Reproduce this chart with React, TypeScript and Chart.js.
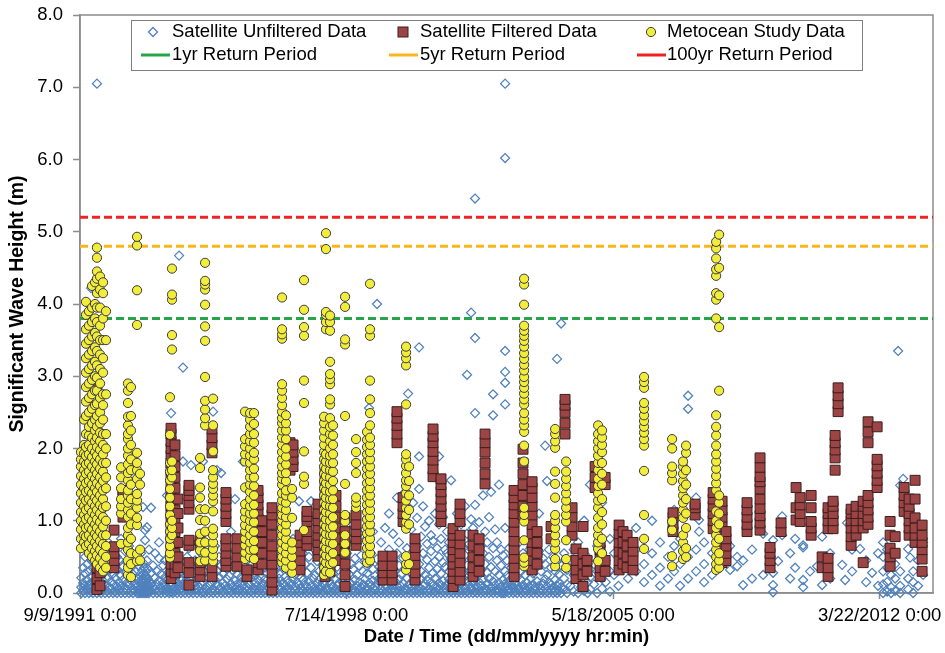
import { useEffect, useRef } from "react";
import { Chart, registerables } from "chart.js";

Chart.register(...registerables);

// x values are days after 9/9/1991 0:00
const EPOCH_UTC = Date.UTC(1991, 8, 9);
const X_TICK_DAYS = [0, 2500, 5000, 7500];
const X_MAX_DAYS = 8000;
const Y_MIN = 0;
const Y_MAX = 8;

const RETURN_1YR = 3.8;
const RETURN_5YR = 4.8;
const RETURN_100YR = 5.2;

const SERIES_LABELS = [
  "Satellite Unfiltered Data",
  "Satellite Filtered Data",
  "Metocean Study Data",
  "1yr Return Period",
  "5yr Return Period",
  "100yr Return Period",
];

type Col = [number, number[]];

const unfilteredCols: Col[] = [
  [12, [0.0, 0.08, 0.21]],
  [30, [0.03, 0.14, 0.35]],
  [47, [0.0, 0.1, 0.27, 0.5]],
  [66, [0.05, 0.18, 0.4]],
  [84, [0.0, 0.12, 0.3, 0.58]],
  [103, [0.02, 0.07, 0.22, 0.45, 4.22]],
  [122, [0.0, 0.16, 0.34, 0.63]],
  [141, [0.04, 0.11, 0.28]],
  [159, [0.0, 0.06, 0.19, 0.41, 2.42, 7.05]],
  [178, [0.02, 0.13, 0.33, 0.55]],
  [197, [0.0, 0.09, 0.25, 0.47]],
  [216, [0.05, 0.17, 0.38, 0.84]],
  [235, [0.0, 0.11, 0.29, 0.6]],
  [253, [0.03, 0.2, 0.43, 0.72]],
  [272, [0.0, 0.08, 0.31]],
  [291, [0.06, 0.16, 0.52]],
  [310, [0.0, 0.12, 0.27, 0.62]],
  [328, [0.02, 0.21, 0.39]],
  [347, [0.0, 0.09, 0.33, 0.5]],
  [366, [0.04, 0.15, 0.46]],
  [385, [0.0, 0.1, 0.24, 0.75]],
  [403, [0.03, 0.18, 0.36]],
  [422, [0.0, 0.07, 0.29, 0.58]],
  [441, [0.05, 0.14, 0.42]],
  [460, [0.0, 0.11, 0.22, 0.65]],
  [478, [0.02, 0.17, 0.35]],
  [497, [0.0, 0.06, 0.26, 0.48]],
  [516, [0.03, 0.13, 0.31]],
  [535, [0.0, 0.09, 0.2, 0.5]],
  [553, [0.0, 0.04, 0.15, 0.37]],
  [572, [0.0, 0.07, 0.12, 0.23, 0.55]],
  [582, [0.02, 0.1, 0.18, 0.31]],
  [591, [0.0, 0.05, 0.14, 0.26, 0.42, 1.19]],
  [601, [0.03, 0.09, 0.2, 0.35]],
  [610, [0.0, 0.06, 0.12, 0.24, 0.73, 0.87]],
  [619, [0.01, 0.08, 0.17, 0.3]],
  [628, [0.0, 0.04, 0.14, 0.22, 0.45, 0.91]],
  [638, [0.02, 0.1, 0.19, 0.33]],
  [647, [0.0, 0.07, 0.16, 0.6]],
  [666, [0.03, 0.13, 0.28, 1.18]],
  [685, [0.0, 0.09, 0.38]],
  [704, [0.05, 0.21, 0.55]],
  [722, [0.0, 0.12, 0.3]],
  [741, [0.02, 0.17, 0.48, 0.7]],
  [760, [0.0, 0.08, 0.26]],
  [779, [0.04, 0.14, 0.38]],
  [797, [0.0, 0.1, 0.22, 0.45]],
  [816, [0.02, 0.07, 0.18, 1.35]],
  [835, [0.0, 0.05, 0.13, 0.29, 0.5]],
  [854, [0.01, 0.09, 0.2, 0.36, 2.49]],
  [872, [0.0, 0.04, 0.12, 0.24, 0.62]],
  [891, [0.02, 0.08, 0.17, 0.4]],
  [910, [0.0, 0.06, 0.15, 0.3, 0.55]],
  [929, [0.03, 0.11, 0.26, 4.67]],
  [947, [0.0, 0.07, 0.19, 0.44]],
  [966, [0.02, 0.13, 0.33, 1.82, 3.12]],
  [985, [0.0, 0.09, 0.24]],
  [1004, [0.04, 0.17, 0.5]],
  [1022, [0.0, 0.11, 0.3, 0.62]],
  [1041, [0.02, 0.06, 0.21, 1.77]],
  [1060, [0.0, 0.14, 0.38]],
  [1079, [0.05, 0.1, 0.27, 0.45]],
  [1097, [0.0, 0.18, 0.7]],
  [1116, [0.03, 0.08, 0.33]],
  [1135, [0.0, 0.12, 0.23, 0.55]],
  [1154, [0.01, 0.16, 0.41, 1.82]],
  [1173, [0.0, 0.07, 0.29]],
  [1191, [0.04, 0.2, 0.6]],
  [1210, [0.0, 0.1, 0.35]],
  [1229, [0.02, 0.15, 0.25, 0.48]],
  [1248, [0.0, 0.06, 0.42, 2.51]],
  [1266, [0.03, 0.18, 0.65]],
  [1285, [0.0, 0.11, 0.3, 1.7]],
  [1304, [0.05, 0.22, 0.5]],
  [1323, [0.0, 0.08, 0.38, 1.66]],
  [1341, [0.02, 0.14, 0.27]],
  [1360, [0.0, 0.1, 0.45, 0.72]],
  [1379, [0.04, 0.19, 0.33]],
  [1398, [0.0, 0.07, 0.24]],
  [1416, [0.02, 0.13, 0.52, 0.85]],
  [1435, [0.0, 0.09, 0.31]],
  [1454, [0.05, 0.17, 0.4, 1.3]],
  [1473, [0.0, 0.12, 0.26]],
  [1491, [0.03, 0.06, 0.45, 0.65]],
  [1510, [0.0, 0.15, 0.22]],
  [1529, [0.02, 0.1, 0.4, 1.82]],
  [1548, [0.0, 0.18, 0.28]],
  [1566, [0.04, 0.08, 0.5]],
  [1585, [0.0, 0.12, 0.33, 0.6]],
  [1604, [0.02, 0.2, 0.38]],
  [1623, [0.0, 0.07, 0.26]],
  [1642, [0.05, 0.14, 0.55]],
  [1660, [0.0, 0.1, 0.3, 0.75]],
  [1679, [0.03, 0.17, 0.42]],
  [1698, [0.0, 0.08, 0.22]],
  [1717, [0.02, 0.13, 0.48]],
  [1735, [0.0, 0.19, 0.35, 0.62]],
  [1754, [0.04, 0.09, 0.28]],
  [1773, [0.0, 0.15, 0.5, 0.85]],
  [1792, [0.02, 0.11, 0.24]],
  [1810, [0.0, 0.06, 0.4]],
  [1829, [0.03, 0.18, 0.31, 0.7]],
  [1848, [0.0, 0.12, 0.45]],
  [1867, [0.05, 0.2, 0.27]],
  [1885, [0.0, 0.08, 0.55, 0.9]],
  [1904, [0.02, 0.14, 0.36]],
  [1923, [0.0, 0.1, 0.22, 0.6]],
  [1942, [0.04, 0.17, 0.42]],
  [1960, [0.0, 0.07, 0.3]],
  [1979, [0.02, 0.13, 0.5]],
  [1998, [0.0, 0.19, 0.38, 0.75]],
  [2017, [0.03, 0.09, 0.25]],
  [2035, [0.0, 0.15, 0.47]],
  [2054, [0.02, 0.11, 0.33, 1.27]],
  [2073, [0.0, 0.06, 0.22]],
  [2092, [0.04, 0.18, 0.55]],
  [2111, [0.0, 0.12, 0.4, 0.72]],
  [2129, [0.02, 0.08, 0.28]],
  [2148, [0.0, 0.16, 0.5]],
  [2167, [0.03, 0.1, 0.35, 1.27]],
  [2186, [0.0, 0.2, 0.62]],
  [2204, [0.02, 0.07, 0.25]],
  [2223, [0.0, 0.13, 0.44]],
  [2242, [0.05, 0.18, 0.3, 0.85]],
  [2261, [0.0, 0.09, 0.52]],
  [2279, [0.02, 0.15, 0.38]],
  [2298, [0.0, 0.11, 0.24, 0.65]],
  [2317, [0.04, 0.06, 0.46]],
  [2336, [0.0, 0.17, 0.33]],
  [2354, [0.02, 0.12, 0.56, 0.7]],
  [2373, [0.0, 0.08, 0.27]],
  [2392, [0.03, 0.19, 0.42]],
  [2411, [0.0, 0.1, 0.36, 0.8]],
  [2429, [0.02, 0.14, 0.5]],
  [2448, [0.0, 0.07, 0.23]],
  [2467, [0.05, 0.16, 0.44, 0.62]],
  [2486, [0.0, 0.11, 0.3]],
  [2504, [0.02, 0.2, 0.55]],
  [2523, [0.0, 0.09, 0.26, 0.75]],
  [2542, [0.03, 0.13, 0.4]],
  [2561, [0.0, 0.06, 0.33, 0.95]],
  [2580, [0.02, 0.18, 0.48]],
  [2598, [0.0, 0.1, 0.25, 0.68]],
  [2617, [0.04, 0.15, 0.38]],
  [2636, [0.0, 0.08, 0.52, 0.8]],
  [2655, [0.02, 0.12, 0.3]],
  [2673, [0.0, 0.19, 0.45]],
  [2692, [0.03, 0.07, 0.27, 0.62]],
  [2711, [0.0, 0.14, 0.4, 2.56]],
  [2730, [0.02, 0.1, 0.55]],
  [2748, [0.0, 0.17, 0.33, 0.85]],
  [2767, [0.05, 0.09, 0.24]],
  [2786, [0.0, 0.13, 0.47, 4.0]],
  [2805, [0.02, 0.2, 0.36]],
  [2823, [0.0, 0.06, 0.28, 0.7]],
  [2842, [0.03, 0.15, 0.5]],
  [2861, [0.0, 0.11, 0.4, 0.9]],
  [2880, [0.02, 0.08, 0.22]],
  [2898, [0.0, 0.18, 0.6, 1.1]],
  [2917, [0.04, 0.12, 0.35]],
  [2936, [0.0, 0.07, 0.45, 0.82]],
  [2955, [0.02, 0.16, 0.3]],
  [2973, [0.0, 0.1, 0.55, 1.32]],
  [2992, [0.03, 0.19, 0.38, 0.7]],
  [3011, [0.0, 0.09, 0.26]],
  [3030, [0.02, 0.14, 0.48, 0.95]],
  [3049, [0.0, 0.06, 0.33, 1.4]],
  [3067, [0.05, 0.2, 0.62]],
  [3077, [2.76]],
  [3086, [0.0, 0.12, 0.42]],
  [3105, [0.02, 0.08, 0.28, 0.88]],
  [3124, [0.0, 0.17, 0.52, 1.25]],
  [3142, [0.03, 0.11, 0.36]],
  [3161, [0.0, 0.15, 0.65, 1.04]],
  [3180, [0.02, 0.07, 0.4, 1.44, 1.89, 3.4]],
  [3199, [0.0, 0.19, 0.3, 0.78]],
  [3217, [0.04, 0.1, 0.55, 1.2]],
  [3236, [0.0, 0.13, 0.25, 0.92]],
  [3255, [0.02, 0.18, 0.46, 0.68]],
  [3274, [0.0, 0.06, 0.35, 1.0]],
  [3292, [0.03, 0.15, 0.58, 0.8]],
  [3311, [0.0, 0.1, 0.28, 0.72]],
  [3330, [0.02, 0.2, 0.44, 1.1]],
  [3349, [0.0, 0.08, 0.33, 0.62]],
  [3367, [0.05, 0.14, 0.5, 0.95, 1.89]],
  [3386, [0.0, 0.11, 0.27, 0.75]],
  [3405, [0.02, 0.17, 0.42, 1.05]],
  [3424, [0.0, 0.07, 0.36, 0.6]],
  [3442, [0.03, 0.12, 0.55, 0.85]],
  [3461, [0.0, 0.19, 0.3, 0.7]],
  [3480, [0.02, 0.09, 0.47, 1.56]],
  [3499, [0.0, 0.15, 0.25, 0.9]],
  [3518, [0.04, 0.1, 0.4, 0.66]],
  [3536, [0.0, 0.18, 0.58, 1.1]],
  [3555, [0.02, 0.06, 0.33, 0.78]],
  [3574, [0.0, 0.13, 0.45, 0.95]],
  [3593, [0.03, 0.2, 0.28, 0.62]],
  [3611, [0.0, 0.08, 0.52, 1.2]],
  [3630, [0.02, 0.16, 0.38, 0.82, 3.02]],
  [3649, [0.0, 0.11, 0.3, 0.68]],
  [3668, [0.05, 0.07, 0.48, 1.02, 3.88]],
  [3686, [0.0, 0.14, 0.35, 0.9]],
  [3705, [0.02, 0.19, 0.6, 1.22, 2.49, 3.53, 5.46]],
  [3724, [0.0, 0.09, 0.26, 0.75]],
  [3743, [0.03, 0.15, 0.44, 0.98]],
  [3761, [0.0, 0.1, 0.32, 0.65]],
  [3780, [0.02, 0.18, 0.55, 1.35]],
  [3799, [0.0, 0.06, 0.4, 0.85]],
  [3818, [0.04, 0.13, 0.28, 0.7]],
  [3836, [0.0, 0.2, 0.5, 1.05]],
  [3855, [0.02, 0.08, 0.36, 1.4]],
  [3874, [0.0, 0.16, 0.62, 2.46, 2.75]],
  [3893, [0.03, 0.11, 0.3, 0.88]],
  [3911, [0.0, 0.05, 0.45, 0.7]],
  [3930, [0.02, 0.14, 0.25, 1.5]],
  [3949, [0.0, 0.09, 0.38, 0.6]],
  [3968, [0.0, 0.03, 0.18, 0.52]],
  [3987, [0.0, 0.07, 0.13, 0.3, 0.9, 2.61, 2.91, 3.06, 3.35, 6.02, 7.05]],
  [4005, [0.02, 0.1, 0.24, 0.45]],
  [4024, [0.0, 0.05, 0.17, 0.62]],
  [4043, [0.03, 0.12, 0.35]],
  [4062, [0.0, 0.08, 0.28, 0.85]],
  [4080, [0.02, 0.15, 0.48]],
  [4099, [0.0, 0.1, 0.22]],
  [4118, [0.04, 0.06, 0.4, 0.7]],
  [4137, [0.0, 0.18, 0.3]],
  [4155, [0.02, 0.11, 0.55]],
  [4174, [0.0, 0.07, 0.25]],
  [4193, [0.03, 0.14, 0.42]],
  [4212, [0.0, 0.09, 0.33, 0.6]],
  [4230, [0.02, 0.2, 0.5]],
  [4249, [0.0, 0.12, 0.27]],
  [4268, [0.05, 0.08, 0.45, 0.7]],
  [4287, [0.0, 0.16, 0.36]],
  [4305, [0.02, 0.1, 0.58, 1.1]],
  [4324, [0.0, 0.06, 0.3]],
  [4343, [0.03, 0.13, 0.48]],
  [4362, [0.0, 0.19, 0.4, 2.04]],
  [4380, [0.02, 0.09, 0.25, 1.55]],
  [4399, [0.0, 0.15, 0.6]],
  [4418, [0.04, 0.11, 0.35]],
  [4437, [0.0, 0.07, 0.5, 0.75]],
  [4456, [0.02, 0.18, 0.3]],
  [4474, [0.0, 0.1, 0.44, 3.24]],
  [4493, [0.03, 0.14, 0.26]],
  [4512, [0.0, 0.08, 0.38, 3.73]],
  [4540, [0.05, 0.2, 0.55]],
  [4568, [0.0, 0.12, 0.32]],
  [4600, [0.1, 0.45]],
  [4630, [0.02, 0.25, 0.6]],
  [4671, [0.0, 0.18, 0.7]],
  [4700, [0.08, 0.35]],
  [4728, [0.03, 0.28, 1.0]],
  [4760, [0.0, 0.15, 0.5]],
  [4784, [0.05, 0.22, 1.5]],
  [4820, [0.12, 0.4]],
  [4850, [0.0, 0.3, 0.65]],
  [4896, [0.06, 0.2, 1.25]],
  [4930, [0.15, 0.45]],
  [4970, [0.02, 0.3, 0.75]],
  [5009, [0.25, 0.55]],
  [5050, [0.1, 0.35, 0.8]],
  [5140, [0.2, 0.45]],
  [5215, [0.3, 0.6, 0.9]],
  [5290, [0.15, 0.4]],
  [5365, [0.25, 0.55, 1.0]],
  [5440, [0.1, 0.35, 0.7]],
  [5515, [0.2, 0.5]],
  [5572, [0.3, 0.65, 1.15]],
  [5628, [0.1, 0.4, 0.75]],
  [5703, [0.2, 0.5, 2.55, 2.73]],
  [5778, [0.3, 0.6, 1.32]],
  [5806, [0.85, 1.01]],
  [5853, [0.15, 0.4, 0.7]],
  [5928, [0.25, 0.55]],
  [6003, [0.35, 0.8]],
  [6097, [0.32, 0.65]],
  [6163, [0.37, 0.5]],
  [6219, [0.11, 0.45]],
  [6303, [0.2, 0.6]],
  [6407, [0.25, 0.82]],
  [6500, [0.01, 0.11, 0.28, 0.73]],
  [6547, [0.44]],
  [6585, [0.8, 1.06]],
  [6660, [0.2, 0.55]],
  [6707, [0.35, 0.75]],
  [6782, [0.08, 0.18, 0.63, 0.66]],
  [6847, [0.3]],
  [6913, [0.37]],
  [6960, [0.11, 0.78]],
  [7035, [0.2, 0.55]],
  [7148, [0.39]],
  [7176, [0.18]],
  [7194, [0.97]],
  [7241, [0.3, 0.6]],
  [7316, [0.61]],
  [7373, [0.15, 0.45]],
  [7429, [0.28]],
  [7485, [0.1, 0.55]],
  [7532, [0.0, 0.12, 0.3, 0.5, 0.7]],
  [7570, [0.02, 0.15, 0.35, 0.6]],
  [7607, [0.0, 0.08, 0.25, 0.45, 0.8]],
  [7645, [0.03, 0.2, 0.4]],
  [7673, [3.35]],
  [7692, [0.0, 0.1, 0.3, 1.49]],
  [7720, [1.58]],
  [7767, [0.05, 0.2, 0.61]],
  [7785, [0.49]],
  [7814, [0.0, 0.15, 0.3]],
  [7860, [0.1, 0.45]],
  [7907, [0.25, 0.7]],
];

const filteredCols: Col[] = [
  [159, [0.05, 0.2, 0.35, 0.55, 0.7, 0.9, 1.1, 1.3, 1.6, 1.9, 2.2, 2.5, 2.85]],
  [188, [0.1, 0.28, 0.45, 0.65, 0.85, 1.05, 1.25, 1.5, 1.75, 1.95]],
  [319, [0.35, 0.45, 0.55, 0.64, 0.87]],
  [403, [1.05, 1.15, 1.25, 1.35, 1.42]],
  [854, [0.2, 0.3, 0.4, 0.5, 0.6, 0.7, 0.8, 0.9, 1.0, 1.1, 1.2, 1.3, 1.4, 1.5, 1.6, 1.7, 1.8, 1.9, 2.0, 2.1, 2.2, 2.28]],
  [891, [0.28, 0.4, 0.55, 0.7, 0.85, 1.0, 1.15, 1.3, 1.45, 1.6, 1.75, 1.9, 2.05]],
  [919, [0.35, 0.5, 0.7, 0.9, 1.1, 1.3]],
  [1022, [0.11, 0.28, 0.42, 0.66, 0.73, 1.16, 1.25, 1.35, 1.42, 1.49]],
  [1126, [0.23, 0.32, 0.42, 0.66, 0.73]],
  [1238, [0.23, 0.35, 1.94, 2.05, 2.15, 2.27]],
  [1369, [0.37, 0.45, 0.55, 0.65, 0.75, 0.99, 1.1, 1.2, 1.3, 1.39]],
  [1473, [0.37, 0.5, 0.62, 0.75]],
  [1566, [0.23, 0.32]],
  [1670, [0.32, 0.42, 0.52, 0.62, 0.72, 0.82, 0.92, 1.02, 1.12, 1.22, 1.32, 1.42]],
  [1707, [0.4, 0.55, 0.7, 0.85, 1.0]],
  [1801, [0.04, 0.15, 0.28, 0.4, 0.52, 0.65, 0.8, 0.95, 1.08, 1.18]],
  [1970, [1.7, 1.8, 1.9, 2.0, 2.08]],
  [1998, [1.75, 1.85, 1.95, 2.05]],
  [2064, [0.32, 0.45, 0.58, 0.7, 0.8]],
  [2129, [0.66, 0.75, 0.85, 0.99, 1.06, 1.13]],
  [2232, [0.51, 0.6, 0.7, 0.8, 0.9, 1.0, 1.1, 1.23]],
  [2298, [0.23, 0.35, 0.48, 0.6, 0.72, 0.85, 0.98, 1.1, 1.22, 1.35, 1.48, 1.6, 1.7]],
  [2345, [0.3, 0.45, 0.6, 0.75, 0.9, 1.05, 1.2, 1.35, 1.5]],
  [2401, [0.45, 0.6, 0.75, 0.9, 1.05, 1.2, 1.35]],
  [2486, [0.09, 0.25, 0.4, 0.55, 0.7, 0.85, 1.04]],
  [2589, [0.66, 0.75, 0.85, 0.95, 1.08]],
  [2842, [0.18, 0.28, 0.38, 0.51]],
  [2927, [0.18, 0.28, 0.38, 0.51]],
  [2973, [2.08, 2.2, 2.32, 2.42, 2.51]],
  [3030, [0.99, 1.1, 1.2, 1.32]],
  [3142, [0.18, 0.28, 0.4, 0.52, 0.63, 0.75]],
  [3311, [1.61, 1.72, 1.84, 1.96, 2.08, 2.17, 2.27]],
  [3386, [0.99, 1.1, 1.2, 1.3, 1.4, 1.5, 1.58]],
  [3499, [0.09, 0.2, 0.3, 0.4, 0.5, 0.6, 0.7, 0.8, 0.89]],
  [3564, [0.18, 0.3, 0.42, 0.55, 0.68, 0.8, 0.99, 1.1, 1.23]],
  [3686, [0.23, 0.35, 0.5, 0.65, 0.8]],
  [3743, [0.3, 0.45, 0.6, 0.75]],
  [3799, [1.51, 1.65, 1.8, 1.95, 2.08, 2.2]],
  [4071, [0.23, 0.35, 0.48, 0.6, 0.72, 0.85, 0.98, 1.1, 1.22, 1.32, 1.42]],
  [4155, [1.08, 1.2, 1.35, 1.5, 1.65, 1.8, 1.99]],
  [4240, [0.32, 0.45, 0.58, 0.7, 0.82, 0.95, 1.08, 1.2, 1.32, 1.45, 1.54]],
  [4287, [0.4, 0.55, 0.7, 0.85]],
  [4418, [0.75, 0.92]],
  [4549, [2.2, 2.35, 2.5, 2.6, 2.68]],
  [4615, [0.8, 0.92, 1.05, 1.18]],
  [4652, [0.2, 0.32, 0.45, 0.61]],
  [4718, [0.09, 0.25, 0.4, 0.55, 0.92]],
  [4756, [0.3, 0.45]],
  [4831, [1.46, 1.6, 1.75]],
  [4878, [0.23, 0.35, 0.5, 0.6, 0.7]],
  [4925, [0.3, 0.45, 1.5, 1.6]],
  [5056, [0.32, 0.45, 0.58, 0.7, 0.82, 0.94]],
  [5093, [0.4, 0.55, 0.7, 0.85]],
  [5131, [0.35, 0.5, 0.65, 0.8]],
  [5187, [0.32, 0.45, 0.58, 0.7]],
  [5562, [0.85, 0.95, 1.05, 1.11]],
  [5769, [1.08, 1.18, 1.23]],
  [5938, [0.89, 1.0, 1.1, 1.2, 1.3, 1.39]],
  [6022, [0.42, 0.55, 0.68, 0.8, 0.92, 1.05, 1.15, 1.27]],
  [6059, [0.45, 0.55, 0.65, 0.75, 0.85]],
  [6256, [0.85, 0.95, 1.05, 1.15, 1.25]],
  [6378, [0.87, 0.97, 1.07, 1.17, 1.3, 1.44, 1.54, 1.61, 1.74, 1.87]],
  [6472, [0.35, 0.45, 0.55, 0.63]],
  [6575, [0.85, 0.97]],
  [6716, [1.01, 1.18, 1.46]],
  [6754, [0.99, 1.1, 1.22, 1.32]],
  [6857, [0.8, 0.9, 0.99, 1.18, 1.35]],
  [6960, [0.35, 0.5]],
  [7016, [0.23, 0.35, 0.48, 0.89, 1.0, 1.1, 1.18]],
  [7063, [0.89, 1.0, 1.1, 1.2, 1.27]],
  [7082, [1.7, 1.87, 1.98, 2.08, 2.18]],
  [7110, [2.51, 2.62, 2.73, 2.84]],
  [7232, [0.66, 0.78, 0.9, 1.0, 1.1, 1.16]],
  [7279, [0.8, 0.9, 1.0, 1.1, 1.2]],
  [7345, [0.42, 0.9, 1.0, 1.1, 1.2, 1.27]],
  [7391, [0.95, 1.05, 1.15, 1.25, 1.35, 2.08, 2.23, 2.37]],
  [7476, [1.46, 1.56, 1.66, 1.76, 1.85, 2.3]],
  [7598, [0.37, 0.5, 0.62, 0.8, 0.99]],
  [7645, [0.55, 0.78]],
  [7729, [1.13, 1.25, 1.35, 1.46]],
  [7776, [0.8, 0.9, 1.0, 1.1, 1.2, 1.3]],
  [7832, [0.7, 0.8, 0.9, 1.04, 1.3, 1.56]],
  [7898, [0.3, 0.47, 0.6, 0.7, 0.8, 0.94]],
];

const metoceanCols: Col[] = [
  [9, [0.62, 0.75, 0.88, 1.0, 1.12, 1.25, 1.38, 1.5, 1.62, 1.75, 1.85, 1.95]],
  [38, [0.7, 0.8, 0.95, 1.08, 1.2, 1.32, 1.45, 1.58, 1.7, 1.82, 1.93, 2.05, 2.4]],
  [56, [0.65, 0.78, 0.9, 1.02, 1.15, 1.28, 1.4, 1.52, 1.65, 1.78, 1.9, 2.02, 2.2, 2.45, 2.65, 2.85, 3.05, 3.25, 3.45, 3.65, 3.85, 4.03]],
  [84, [0.55, 0.68, 0.8, 0.92, 1.05, 1.18, 1.3, 1.42, 1.55, 1.68, 1.8, 1.92, 2.05, 2.18, 2.3, 2.5, 2.7, 2.9, 3.1, 3.3, 3.5, 3.7, 3.9]],
  [113, [0.5, 0.62, 0.75, 0.88, 1.0, 1.12, 1.25, 1.38, 1.5, 1.62, 1.75, 1.88, 2.0, 2.15, 2.35, 2.55, 2.75, 2.95, 3.15, 3.35, 3.55, 3.75, 3.95, 4.25]],
  [141, [0.45, 0.58, 0.7, 0.82, 0.95, 1.08, 1.2, 1.32, 1.45, 1.58, 1.7, 1.82, 1.95, 2.1, 2.25, 2.4, 2.6, 2.8, 3.0, 3.2, 3.4, 3.6, 3.8, 4.0, 4.3]],
  [159, [0.4, 0.52, 0.65, 0.78, 0.9, 1.02, 1.15, 1.28, 1.4, 1.52, 1.65, 1.78, 1.9, 2.02, 2.15, 2.3, 2.45, 2.62, 2.8, 2.98, 3.15, 3.35, 3.55, 3.75, 3.95, 4.15, 4.35, 4.45, 4.64, 4.78]],
  [188, [0.35, 0.48, 0.6, 0.72, 0.85, 0.98, 1.1, 1.22, 1.35, 1.48, 1.6, 1.72, 1.85, 1.98, 2.1, 2.22, 2.35, 2.5, 2.7, 2.9, 3.1, 3.3, 3.5, 3.7, 3.95, 4.2, 4.38]],
  [216, [0.3, 0.42, 0.55, 0.68, 0.8, 0.92, 1.05, 1.18, 1.3, 1.42, 1.55, 1.68, 1.8, 1.92, 2.05, 2.2, 2.4, 2.6, 2.75, 3.05, 3.25, 3.5, 3.8, 4.15, 4.3]],
  [244, [0.35, 0.5, 0.65, 0.8, 1.0, 1.2, 1.45, 1.6, 1.8, 2.0, 2.2, 2.75, 3.5, 3.9]],
  [385, [0.68, 1.1, 1.2, 1.3, 1.45, 1.6, 1.74]],
  [450, [0.25, 0.35, 0.45, 0.6, 0.7, 0.8, 0.9, 1.05, 1.15, 1.25, 1.35, 1.42, 1.56, 1.66, 1.78, 1.9, 2.0, 2.13, 2.2, 2.32, 2.44, 2.63, 2.8, 2.9]],
  [478, [0.22, 0.4, 0.55, 0.75, 0.95, 1.1, 1.3, 1.5, 1.7, 1.85, 2.05, 2.25, 2.45, 2.85]],
  [535, [0.44, 0.54, 0.94, 1.04, 1.18, 1.28, 1.37, 1.58, 1.7, 1.8, 1.94, 3.71, 4.19, 4.81, 4.93]],
  [563, [0.45, 0.6, 1.5, 1.65]],
  [844, [0.49, 0.55, 0.65, 0.75, 0.85, 0.95, 1.08, 1.2, 1.32, 1.44, 1.56, 1.68, 1.8, 2.19, 2.71]],
  [863, [0.8, 0.9, 1.0, 1.6, 1.7, 1.82, 3.37, 3.57, 4.06, 4.13, 4.49]],
  [1126, [0.44, 0.59, 0.7, 0.82, 1.01, 1.16, 1.32, 1.46, 1.73, 1.87]],
  [1173, [0.45, 0.56, 0.7, 0.85, 1.0, 1.16, 2.32, 2.42, 2.54, 2.66, 2.99, 3.49, 3.69, 3.99, 4.2, 4.27, 4.32, 4.57]],
  [1248, [0.44, 0.52, 0.61, 0.7, 0.8, 0.89, 1.13, 1.27, 1.35, 1.44, 1.51, 1.6, 1.7, 1.96, 2.32, 2.69]],
  [1548, [0.47, 0.56, 0.66, 0.75, 0.85, 0.94, 1.04, 1.13, 1.23, 1.46, 1.82, 1.92, 2.03, 2.13, 2.51]],
  [1595, [0.5, 0.6, 0.7, 0.8, 0.9, 1.0, 1.1, 1.2, 1.3, 1.4, 1.5, 1.6, 1.7, 1.8, 1.9, 2.0, 2.1, 2.2, 2.3, 2.4, 2.49]],
  [1632, [0.47, 0.6, 0.72, 0.85, 0.98, 1.1, 1.22, 1.35, 1.48, 1.6, 1.72, 1.85, 1.94, 2.08, 2.2, 2.34, 2.49]],
  [1895, [0.42, 0.5, 0.6, 0.7, 0.8, 0.9, 1.0, 1.08, 1.18, 1.28, 1.38, 1.5, 1.58, 1.66, 1.75, 1.85, 1.95, 2.05, 2.15, 2.25, 2.35, 2.42, 2.51, 2.6, 2.7, 2.8, 2.89, 3.52, 3.58, 3.65, 4.09]],
  [1932, [0.35, 0.45, 0.55, 0.65, 0.75, 0.85, 0.95, 1.05, 1.15, 1.25, 1.35, 1.42, 1.55, 1.66, 1.78, 1.89, 2.0, 2.13, 2.25, 2.35, 2.46]],
  [1989, [0.28, 0.38, 0.5, 0.6, 0.7, 1.04, 1.32, 1.44]],
  [2101, [0.87, 1.51, 1.61, 1.96, 2.63, 2.94, 3.56, 3.68, 3.92, 4.33]],
  [2289, [0.25, 0.35, 0.45, 0.55, 0.65, 0.75, 0.85, 0.95, 1.05, 1.15, 1.25, 1.35, 1.45, 1.55, 1.65, 1.75, 1.85, 1.95, 2.05, 2.15, 2.25, 2.35, 2.44]],
  [2307, [0.3, 0.42, 0.52, 0.62, 0.72, 0.82, 0.92, 1.02, 1.12, 1.22, 1.32, 1.42, 1.52, 1.62, 1.72, 1.82, 1.92, 3.65, 3.75, 3.85, 3.89, 4.76, 4.98]],
  [2345, [0.28, 0.4, 0.5, 0.6, 0.7, 0.8, 0.9, 1.0, 1.1, 1.2, 1.3, 1.4, 1.5, 1.6, 1.7, 1.8, 1.9, 2.0, 2.1, 2.2, 2.3, 2.42, 2.61, 2.68, 2.89, 2.96, 3.03, 3.2, 3.63, 3.75, 3.84]],
  [2373, [0.42, 0.55, 0.68, 0.8, 0.92, 1.05, 1.18, 1.3, 1.42, 1.55, 1.68, 1.8, 1.92, 2.05, 2.18, 2.32]],
  [2486, [0.56, 0.68, 0.8, 0.99, 1.08, 1.51, 2.45, 3.44, 3.51, 3.96, 4.1]],
  [2589, [1.18, 1.25, 1.32, 1.66, 1.8, 1.95, 2.13]],
  [2692, [0.42, 0.52, 0.62, 0.72, 0.82, 0.92, 1.02, 1.12, 1.22, 1.32, 1.42, 1.52, 1.62, 1.72, 1.82, 1.92, 2.02, 2.12, 2.23]],
  [2720, [0.45, 0.55, 0.65, 0.75, 0.85, 0.95, 1.05, 1.15, 1.25, 1.35, 1.45, 1.55, 1.65, 1.75, 1.85, 1.95, 2.05, 2.15, 2.32, 2.49, 2.68, 2.94, 3.56, 3.65, 4.28]],
  [3058, [0.32, 0.4, 0.51, 0.89, 0.98, 1.08, 1.18, 1.28, 1.38, 1.48, 1.56, 1.66, 1.76, 1.85, 1.92, 2.61, 3.15, 3.25, 3.33, 3.41]],
  [3086, [0.4, 0.95, 1.15, 1.35, 1.55, 1.75]],
  [4165, [0.37, 0.42, 0.49, 0.73, 0.99, 1.08, 1.18, 1.82, 2.04, 2.23, 2.32, 2.4, 2.49, 2.61, 2.68, 2.76, 2.84, 2.92, 2.99, 3.08, 3.16, 3.24, 3.32, 3.41, 3.49, 3.56, 3.63, 3.7, 3.99, 4.27, 4.35]],
  [4456, [0.37, 0.47, 0.61, 0.7, 0.8, 0.9, 1.0, 1.08, 1.32, 1.51, 1.68, 2.01, 2.1, 2.2, 2.27]],
  [4559, [0.35, 0.47, 0.73, 0.99, 1.08, 1.18, 1.28, 1.38, 1.48, 1.58, 1.68, 1.82]],
  [4859, [0.44, 0.61, 0.7, 0.8, 0.9, 1.04, 1.18, 1.28, 1.38, 1.48, 1.58, 1.7, 1.8, 1.9, 2.0, 2.1, 2.2, 2.32]],
  [4896, [0.55, 0.75, 0.95, 1.12, 1.3, 1.5, 1.65, 1.8, 1.95, 2.05, 2.15, 2.25]],
  [5290, [0.61, 0.75, 1.08, 1.69, 2.04, 2.13, 2.22, 2.3, 2.38, 2.46, 2.55, 2.63, 2.84, 2.92, 2.99]],
  [5553, [0.37, 0.51, 0.87, 0.99, 1.56, 1.66, 1.75, 2.0, 2.13]],
  [5656, [0.47, 0.58, 0.7, 0.8, 1.04, 1.15, 1.25, 1.35, 1.45, 1.55, 1.65, 1.75, 1.82]],
  [5684, [0.5, 0.62, 0.9, 1.1, 1.3, 1.5, 1.7, 1.94, 2.04]],
  [5966, [0.32, 0.4, 0.5, 0.6, 0.7, 0.8, 0.9, 1.0, 1.13, 1.42, 1.52, 1.62, 1.72, 1.82, 1.92, 2.04, 2.18, 2.3, 2.46, 3.8, 4.06, 4.15, 4.39, 4.48, 4.63, 4.77, 4.86]],
  [5994, [0.35, 0.45, 0.55, 0.75, 0.95, 1.1, 1.25, 1.35, 2.8, 3.68, 4.12, 4.5, 4.96]],
];

const FONT = "'Liberation Sans', Arial, sans-serif";
const COLORS = {
  unfiltered: "#4F81BD",
  filteredFill: "#9D4444",
  filteredBorder: "#3A1E1E",
  metoceanFill: "#F2EC3A",
  metoceanBorder: "#3C3C3C",
  r1: "#26A649",
  r5: "#FBB61E",
  r100: "#EE2224",
  axis: "#8C8C8C",
};

function toPoints(cols: Col[]) {
  return cols.flatMap(([d, ys]) => ys.map((y) => ({ x: d, y })));
}

function fmtDate(days: number) {
  const dt = new Date(EPOCH_UTC + days * 86400000);
  return `${dt.getUTCMonth() + 1}/${dt.getUTCDate()}/${dt.getUTCFullYear()} 0:00`;
}

function hLine(v: number) {
  return [
    { x: 0, y: v },
    { x: X_MAX_DAYS, y: v },
  ];
}

const framePlugin = {
  id: "frame",
  beforeDatasetsDraw(chart: any) {
    const { ctx, chartArea } = chart;
    ctx.save();
    ctx.strokeStyle = COLORS.axis;
    ctx.lineWidth = 1.5;
    ctx.strokeRect(chartArea.left, chartArea.top, chartArea.right - chartArea.left, chartArea.bottom - chartArea.top);
    ctx.restore();
  },
};

const legendPlugin = {
  id: "boxLegend",
  afterDraw(chart: any) {
    const ctx = chart.ctx as CanvasRenderingContext2D;
    ctx.save();
    const bx = 131, by = 20, bw = 731, bh = 50;
    ctx.fillStyle = "#ffffff";
    ctx.fillRect(bx, by, bw, bh);
    ctx.strokeStyle = "#7f7f7f";
    ctx.lineWidth = 1;
    ctx.strokeRect(bx + 0.5, by + 0.5, bw, bh);
    const row1 = 32, row2 = 55;
    const colText = [172, 420, 667];
    const colMark = [153, 403, 651];
    ctx.beginPath();
    ctx.moveTo(colMark[0] - 4.5, row1);
    ctx.lineTo(colMark[0], row1 - 4.5);
    ctx.lineTo(colMark[0] + 4.5, row1);
    ctx.lineTo(colMark[0], row1 + 4.5);
    ctx.closePath();
    ctx.strokeStyle = COLORS.unfiltered;
    ctx.lineWidth = 1.25;
    ctx.stroke();
    ctx.fillStyle = COLORS.filteredFill;
    ctx.strokeStyle = COLORS.filteredBorder;
    ctx.lineWidth = 1;
    ctx.fillRect(colMark[1] - 5, row1 - 5, 10, 10);
    ctx.strokeRect(colMark[1] - 5, row1 - 5, 10, 10);
    ctx.beginPath();
    ctx.arc(colMark[2], row1, 4.6, 0, Math.PI * 2);
    ctx.fillStyle = COLORS.metoceanFill;
    ctx.fill();
    ctx.strokeStyle = COLORS.metoceanBorder;
    ctx.stroke();
    const lineCols = [COLORS.r1, COLORS.r5, COLORS.r100];
    const lineX = [141, 389, 637];
    lineCols.forEach((c, i) => {
      ctx.beginPath();
      ctx.moveTo(lineX[i], row2);
      ctx.lineTo(lineX[i] + 29, row2);
      ctx.strokeStyle = c;
      ctx.lineWidth = 3;
      ctx.stroke();
    });
    ctx.fillStyle = "#000";
    ctx.font = `18.5px ${FONT}`;
    ctx.textBaseline = "middle";
    ctx.textAlign = "left";
    for (let i = 0; i < 3; i++) {
      ctx.fillText(SERIES_LABELS[i], colText[i], row1);
      ctx.fillText(SERIES_LABELS[i + 3], colText[i], row2);
    }
    ctx.restore();
  },
};

export default function App() {
  const ref = useRef<HTMLCanvasElement | null>(null);

  useEffect(() => {
    document.body.style.margin = "0";
    if (!ref.current) return;
    const lineDs = (label: string, v: number, color: string) => ({
      label,
      data: hLine(v),
      showLine: true,
      borderColor: color,
      backgroundColor: color,
      borderWidth: 3,
      borderDash: [8, 4],
      pointRadius: 0,
      order: 4,
    });
    const chart = new Chart(ref.current, {
      type: "scatter",
      data: {
        datasets: [
          {
            label: SERIES_LABELS[0],
            data: toPoints(unfilteredCols),
            pointStyle: "rectRot",
            pointRadius: 4.5,
            borderColor: COLORS.unfiltered,
            backgroundColor: "rgba(0,0,0,0)",
            borderWidth: 1.25,
            order: 3,
            clip: false,
          },
          {
            label: SERIES_LABELS[1],
            data: toPoints(filteredCols),
            pointStyle: "rect",
            pointRadius: 7,
            borderColor: COLORS.filteredBorder,
            backgroundColor: COLORS.filteredFill,
            borderWidth: 1,
            order: 2,
            clip: false,
          },
          {
            label: SERIES_LABELS[2],
            data: toPoints(metoceanCols),
            pointStyle: "circle",
            pointRadius: 4.6,
            borderColor: COLORS.metoceanBorder,
            backgroundColor: COLORS.metoceanFill,
            borderWidth: 1,
            order: 1,
            clip: false,
          },
          lineDs(SERIES_LABELS[3], RETURN_1YR, COLORS.r1),
          lineDs(SERIES_LABELS[4], RETURN_5YR, COLORS.r5),
          lineDs(SERIES_LABELS[5], RETURN_100YR, COLORS.r100),
        ] as any,
      },
      options: {
        animation: false,
        responsive: false,
        events: [],
        layout: { padding: { top: 15, right: 12, left: 0, bottom: 0 } },
        plugins: { legend: { display: false }, tooltip: { enabled: false } },
        scales: {
          x: {
            type: "linear",
            min: 0,
            max: X_MAX_DAYS,
            afterBuildTicks: (s: any) => {
              s.ticks = X_TICK_DAYS.map((v) => ({ value: v }));
            },
            afterFit: (s: any) => {
              s.height = 60;
              s.paddingLeft = 0;
              s.paddingRight = 0;
            },
            grid: { drawOnChartArea: false, drawTicks: true, tickLength: 6, tickColor: COLORS.axis, tickWidth: 1.5 },
            border: { display: true, color: COLORS.axis, width: 1.5 },
            ticks: {
              color: "#000",
              font: { family: FONT, size: 18.5 },
              padding: 6,
              maxRotation: 0,
              autoSkip: false,
              callback: (v: any) => fmtDate(Number(v)),
            },
            title: {
              display: true,
              text: "Date / Time (dd/mm/yyyy hr:min)",
              color: "#000",
              font: { family: FONT, size: 18.5, weight: "bold" },
              padding: { top: 0, bottom: 5 },
            },
          },
          y: {
            type: "linear",
            min: Y_MIN,
            max: Y_MAX,
            afterFit: (s: any) => {
              s.width = 80;
              s.paddingTop = 0;
              s.paddingBottom = 0;
            },
            grid: { drawOnChartArea: false, drawTicks: true, tickLength: 7, tickColor: COLORS.axis, tickWidth: 1.5 },
            border: { display: true, color: COLORS.axis, width: 1.5 },
            ticks: {
              stepSize: 1,
              color: "#000",
              font: { family: FONT, size: 18.5 },
              padding: 10,
              callback: (v: any) => Number(v).toFixed(1),
            },
            title: {
              display: true,
              text: "Significant Wave Height (m)",
              color: "#000",
              font: { family: FONT, size: 19.5, weight: "bold" },
              padding: { top: 6, bottom: 0 },
            },
          },
        },
      } as any,
      plugins: [framePlugin, legendPlugin],
    });
    return () => chart.destroy();
  }, []);

  return (
    <div style={{ width: 945, height: 653 }}>
      <canvas ref={ref} width={945} height={653} style={{ display: "block" }} />
    </div>
  );
}
